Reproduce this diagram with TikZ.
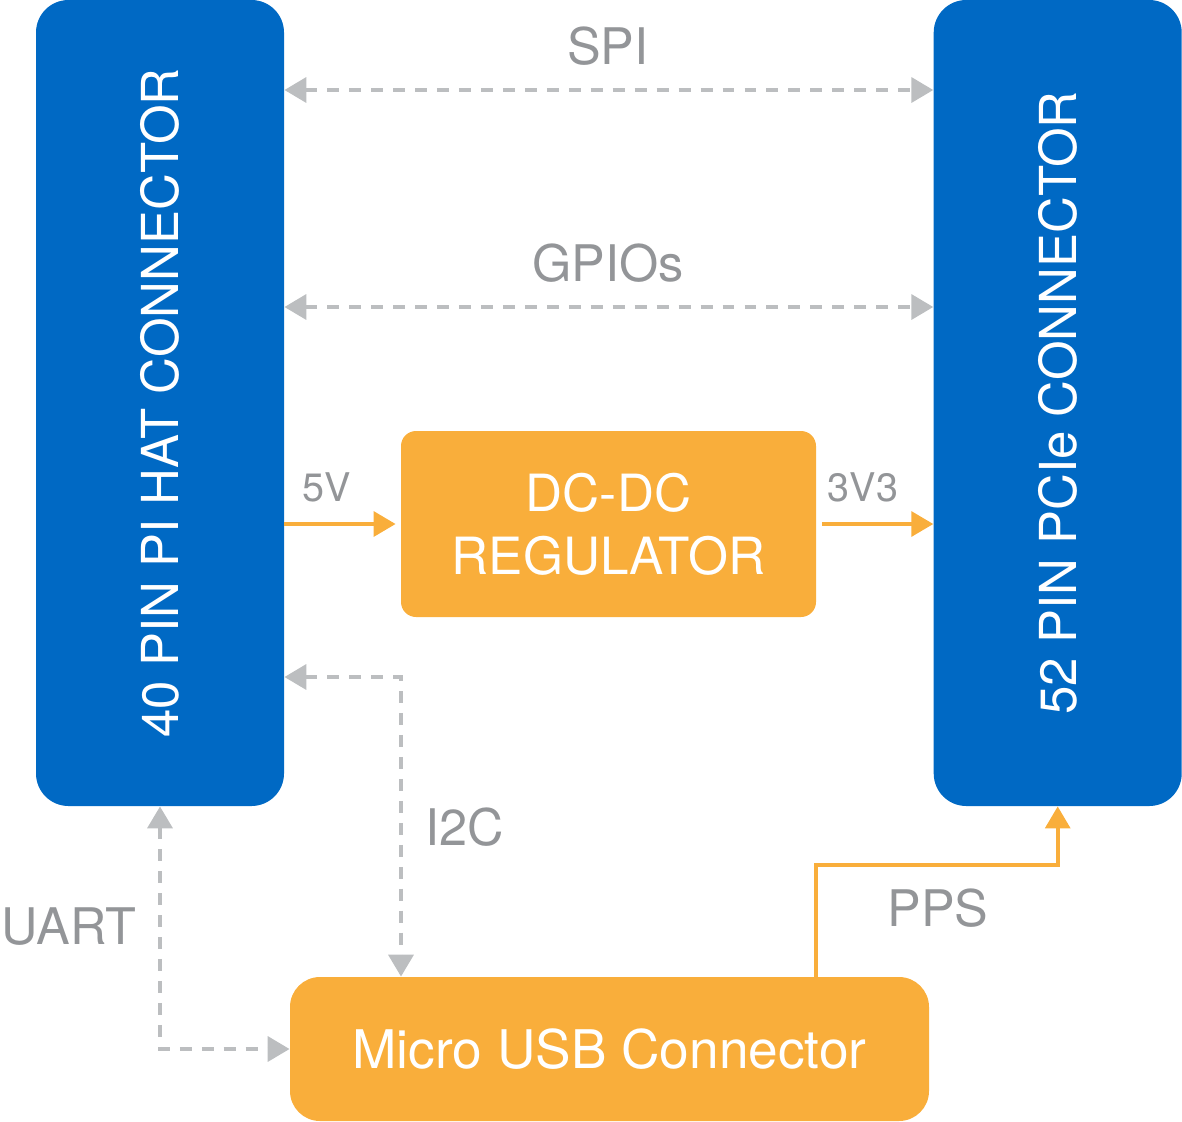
\documentclass[tikz,border=0pt]{standalone}
\usepackage{fontspec}
\setmainfont{TeX Gyre Heros}
\usepackage{xcolor}
\usepackage{tikz}
\usetikzlibrary{arrows.meta, positioning}
\definecolor{pinblue}{HTML}{0069C4}
\definecolor{regorange}{HTML}{F9AE3B}
\definecolor{busgray}{HTML}{BCBEC0}
\definecolor{labelgray}{HTML}{939598}

\begin{document}
\begin{tikzpicture}[
    >={Triangle[length=12.5pt, width=14pt]},
    conn/.style={
      fill=pinblue, 
      minimum width=4.96cm, 
      minimum height=16.12cm, 
      rounded corners=0.65cm, 
      inner sep=0pt
    },
    conntext/.style={
      rotate=90, 
      text=white, 
      inner sep=0pt, 
      font=\fontsize{29}{32}\selectfont
    },
    regbox/.style={
      fill=regorange, 
      text=white, 
      align=center, 
      inner sep=0pt, 
      font=\fontsize{29.2}{36}\selectfont
    },
    lbl/.style={
      text=labelgray, 
      inner sep=0pt, 
      font=\fontsize{28.7}{32}\selectfont
    },
    small/.style={
      lbl, 
      font=\fontsize{22.5}{24}\selectfont
    },
    bus/.style={
      <->, 
      busgray, 
      line width=2.6pt, 
      dash pattern=on 6.8pt off 5.7pt
    },
    power/.style={
      ->, 
      regorange, 
      line width=2.4pt
    }
]
\useasboundingbox (0,0) rectangle (23.64,-22.42);

% Connectors
\node (pihat) [conn, label={[conntext]center:40 PIN PI HAT CONNECTOR}] at (3.2,-8.06) {};
\node (pcie) [conn, right=12.98cm of pihat, label={[conntext]center:52 PIN PCIe CONNECTOR}] {};

% Regulator
\node (dcdc) [regbox, minimum width=8.3cm, minimum height=3.72cm, rounded corners=0.3cm] at (12.17,-10.48) {DC-DC\\REGULATOR};

% Micro USB
\node (usb) [regbox, minimum width=12.78cm, minimum height=2.88cm, rounded corners=0.6cm, font=\fontsize{30.3}{36}\selectfont] at (12.19,-20.98) {Micro USB Connector};

% SPI and GPIOs
\coordinate (spi) at (12.16,-1.8);
\coordinate (gpio) at (12.16,-6.14);
\draw [bus] (pihat.east |- spi) -- (pcie.west |- spi);
\node (spilbl) [lbl, above=0.48cm of spi] {SPI};
\draw [bus] (pihat.east |- gpio) -- (pcie.west |- gpio);
\node (gpiolbl) [lbl, above=0.48cm of gpio] {GPIOs};

% Power
\draw [power, shorten >=0.1cm] (pihat.east |- dcdc.west) -- (dcdc.west);
\node (vin) [small] at (6.54,-9.74) {5V};
\draw [power, shorten <=0.12cm] (dcdc.east) -- (pcie.west |- dcdc.east);
\node (vout) [small] at (17.26,-9.74) {3V3};

% I2C
\coordinate (i2c) at (8.02,-13.54);
\draw [bus] (pihat.east |- i2c) -- (i2c) -- (usb.north -| i2c);
\node (i2clbl) [lbl] at (9.3,-16.54) {I2C};

% UART
\draw [bus] (pihat.south) |- (usb.west);
\node (uartlbl) [lbl] at (1.38,-18.54) {UART};

% PPS
\coordinate (pps) at (16.32,-17.3);
\draw [power] (usb.north -| pps) -- (pps) -| (pcie.south);
\node (ppslbl) [lbl] at (18.76,-18.16) {PPS};

\end{tikzpicture}
\end{document}
